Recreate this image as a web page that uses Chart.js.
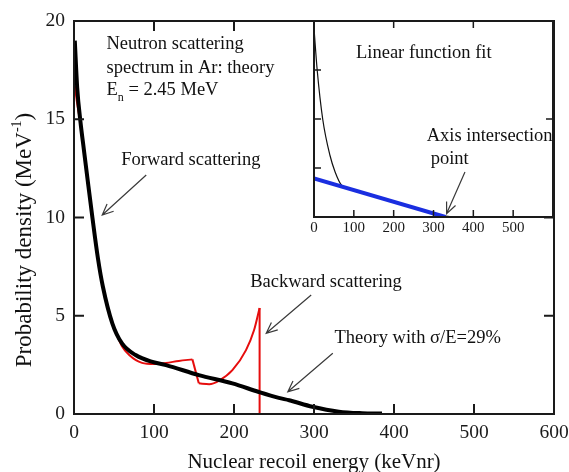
<!DOCTYPE html>
<html>
<head>
<meta charset="utf-8">
<script src="https://cdn.jsdelivr.net/npm/chart.js@4/dist/chart.umd.min.js"></script>
<style>
  html, body { margin: 0; padding: 0; background: #fff; }
  #wrap { position: relative; width: 569px; height: 472px; }
  #wrap canvas { position: absolute; left: 0; top: 0; }
</style>
</head>
<body>
<div id="wrap">
  <canvas id="main" width="569" height="472"></canvas>
  <canvas id="inset" width="569" height="472"></canvas>
</div>
<script>
// ---------------- DATA ----------------
// Main panel: smeared theory (black)
const theoryE = [1, 4, 8, 12.5, 18, 23, 30, 36, 48, 60, 77, 98, 115, 156, 198, 231, 256, 269, 298, 331, 360, 385];
const theoryP = [19.0, 16.6, 14.9, 13.4, 11.6, 10.0, 7.9, 6.5, 4.6, 3.59, 3.0, 2.65, 2.49, 1.98, 1.56, 1.12, 0.82, 0.70, 0.37, 0.12, 0.04, 0.02];
// Main panel: unsmeared spectrum (red), in pieces
const redLowE = [1, 4, 8, 12.5, 18, 23, 30, 36, 48, 54, 60, 69, 85, 100, 115, 131, 148];
const redLowP = [16.7, 15.8, 14.8, 13.4, 11.6, 10.0, 7.9, 6.5, 4.6, 4.0, 3.45, 3.0, 2.6, 2.54, 2.6, 2.7, 2.78];
const redStepE = [148, 156];
const redStepP = [2.78, 1.56];
const redHighE = [156, 169, 181, 198, 215, 225, 232];
const redHighP = [1.56, 1.52, 1.69, 2.23, 3.25, 4.26, 5.4];
const redEdgeE = [232, 232];
const redEdgeP = [5.4, 0];
// Axis ticks
const mainXTicks = [0, 100, 200, 300, 400, 500, 600];
const mainYTicks = [0, 5, 10, 15, 20];
// Inset: theory (thin black) and linear fit (blue)
const insetTheoryE = [0, 8, 22, 40, 53, 70, 100, 150, 200, 250, 300, 330, 370];
const insetTheoryV = [3.85, 3.0, 1.99, 1.26, 0.92, 0.64, 0.55, 0.43, 0.31, 0.19, 0.075, 0.02, 0];
const insetFitE = [0, 330];
const insetFitV = [0.785, 0];
const insetXLabels = [0, 100, 200, 300, 400, 500];
const insetTopTicks = [200, 400];
const insetRightTicks = [2];

// Annotations (data coordinates)
const mainNotes = [
  ['Neutron scattering', 40.6, 18.83],
  ['spectrum in Ar: theory', 40.6, 17.61],
  ['Forward scattering', 59, 12.93],
  ['Backward scattering', 220.3, 6.73],
  ['Theory with σ/E=29%', 325.6, 3.85]
];
const energyNote = [40.6, 16.49];
const mainArrows = [[90.3, 12.16, 35.3, 10.13], [296.5, 6.06, 240.3, 4.11], [323.5, 3.09, 267.3, 1.13]];
const insetNotes = [
  ['Linear function fit', 105.4, 3.35],
  ['Axis intersection', 283, 1.64],
  ['point', 293, 1.19]
];
const insetArrows = [[379, 0.92, 333, 0.07]];

// ---------------- HELPERS ----------------
const SERIF = "'Liberation Serif', 'Times New Roman', serif";
const RED = '#e60d0d';
const BLUE = '#1a2ee0';
function pts(xs, ys) { return xs.map((x, i) => ({ x: x, y: ys[i] })); }
function noPad(s) { s.paddingLeft = 0; s.paddingRight = 0; s.paddingTop = 0; s.paddingBottom = 0; }

function arrow(ctx, x1, y1, x2, y2) {
  const a = Math.atan2(y2 - y1, x2 - x1), L = 12, w = 0.42;
  ctx.beginPath();
  ctx.moveTo(x1, y1); ctx.lineTo(x2, y2);
  ctx.moveTo(x2 - L * Math.cos(a - w), y2 - L * Math.sin(a - w));
  ctx.lineTo(x2, y2);
  ctx.lineTo(x2 - L * Math.cos(a + w), y2 - L * Math.sin(a + w));
  ctx.stroke();
}

function frameAndTicks(chart, len, lw, sides) {
  const ctx = chart.ctx, a = chart.chartArea, xs = chart.scales.x, ys = chart.scales.y;
  ctx.save();
  ctx.strokeStyle = '#1a1a1a';
  ctx.lineWidth = lw;
  ctx.beginPath();
  sides.bottom.forEach(v => { if (v > xs.min && v < xs.max) { const p = xs.getPixelForValue(v); ctx.moveTo(p, a.bottom); ctx.lineTo(p, a.bottom - len); } });
  sides.top.forEach(v => { if (v > xs.min && v < xs.max) { const p = xs.getPixelForValue(v); ctx.moveTo(p, a.top); ctx.lineTo(p, a.top + len); } });
  sides.left.forEach(v => { if (v > ys.min && v < ys.max) { const p = ys.getPixelForValue(v); ctx.moveTo(a.left, p); ctx.lineTo(a.left + len, p); } });
  sides.right.forEach(v => { if (v > ys.min && v < ys.max) { const p = ys.getPixelForValue(v); ctx.moveTo(a.right, p); ctx.lineTo(a.right - len, p); } });
  ctx.stroke();
  ctx.lineWidth = 2;
  ctx.strokeRect(a.left, a.top, a.right - a.left, a.bottom - a.top);
  ctx.restore();
}

// ---------------- MAIN CHART ----------------
const mainPlugin = {
  id: 'mainDecor',
  afterDatasetsDraw(chart) {
    const ctx = chart.ctx, xs = chart.scales.x, ys = chart.scales.y, a = chart.chartArea;
    frameAndTicks(chart, 10, 2, { bottom: mainXTicks, top: mainXTicks, left: mainYTicks, right: mainYTicks });
    ctx.save();
    ctx.fillStyle = '#111';
    ctx.textBaseline = 'middle';
    ctx.textAlign = 'left';
    ctx.font = '18.5px ' + SERIF;
    mainNotes.forEach(n => ctx.fillText(n[0], xs.getPixelForValue(n[1]), ys.getPixelForValue(n[2])));
    // E_n = 2.45 MeV
    let ex = xs.getPixelForValue(energyNote[0]), ey = ys.getPixelForValue(energyNote[1]);
    ctx.fillText('E', ex, ey);
    ex += ctx.measureText('E').width;
    ctx.font = '12px ' + SERIF;
    ctx.fillText('n', ex, ey + 8);
    ex += ctx.measureText('n').width;
    ctx.font = '18.5px ' + SERIF;
    ctx.fillText(' = 2.45 MeV', ex, ey);
    // arrows
    ctx.strokeStyle = '#3a3a3a';
    ctx.lineWidth = 1.2;
    mainArrows.forEach(r => arrow(ctx, xs.getPixelForValue(r[0]), ys.getPixelForValue(r[1]), xs.getPixelForValue(r[2]), ys.getPixelForValue(r[3])));
    // axis titles
    ctx.textAlign = 'center';
    ctx.font = '21px ' + SERIF;
    ctx.fillText('Nuclear recoil energy (keVnr)', (a.left + a.right) / 2, a.bottom + 48);
    ctx.translate(a.left - 49, a.top + 219);
    ctx.rotate(-Math.PI / 2);
    ctx.font = '23px ' + SERIF;
    const p1 = 'Probability density (MeV', p3 = ')';
    const w1 = ctx.measureText(p1).width, w3 = ctx.measureText(p3).width;
    ctx.font = '14px ' + SERIF;
    const w2 = ctx.measureText('-1').width;
    let sx = -(w1 + w2 + w3) / 2;
    ctx.textAlign = 'left';
    ctx.font = '23px ' + SERIF;
    ctx.fillText(p1, sx, 0); sx += w1;
    ctx.font = '14px ' + SERIF;
    ctx.fillText('-1', sx, -8); sx += w2;
    ctx.font = '23px ' + SERIF;
    ctx.fillText(p3, sx, 0);
    ctx.restore();
  }
};

new Chart(document.getElementById('main'), {
  type: 'line',
  data: {
    datasets: [
      { data: pts(theoryE, theoryP), borderColor: '#000', borderWidth: 4, cubicInterpolationMode: 'monotone', pointRadius: 0, fill: false },
      { data: pts(redLowE, redLowP), borderColor: RED, borderWidth: 2, cubicInterpolationMode: 'monotone', pointRadius: 0, fill: false },
      { data: pts(redStepE, redStepP), borderColor: RED, borderWidth: 2, tension: 0, pointRadius: 0, fill: false },
      { data: pts(redHighE, redHighP), borderColor: RED, borderWidth: 2, cubicInterpolationMode: 'monotone', pointRadius: 0, fill: false },
      { data: pts(redEdgeE, redEdgeP), borderColor: RED, borderWidth: 2, tension: 0, pointRadius: 0, fill: false }
    ]
  },
  options: {
    responsive: false,
    animation: false,
    events: [],
    layout: { padding: { left: 0, top: 21, right: 15, bottom: 0 } },
    plugins: { legend: { display: false }, tooltip: { enabled: false } },
    scales: {
      x: {
        type: 'linear', min: 0, max: 600,
        afterBuildTicks(s) { s.ticks = mainXTicks.map(v => ({ value: v })); },
        ticks: { padding: 7, maxRotation: 0, autoSkip: false, color: '#1a1a1a', font: { family: SERIF, size: 19.5 } },
        grid: { display: false, drawTicks: false },
        border: { display: false },
        afterFit(s) { s.height = 58; noPad(s); }
      },
      y: {
        type: 'linear', min: 0, max: 20,
        afterBuildTicks(s) { s.ticks = mainYTicks.map(v => ({ value: v })); },
        ticks: { padding: 9, color: '#1a1a1a', font: { family: SERIF, size: 19.5 } },
        grid: { display: false, drawTicks: false },
        border: { display: false },
        afterFit(s) { s.width = 74; noPad(s); }
      }
    }
  },
  plugins: [mainPlugin]
});

// ---------------- INSET CHART ----------------
const insetPlugin = {
  id: 'insetDecor',
  beforeDatasetsDraw(chart) {
    const ctx = chart.ctx, a = chart.chartArea;
    ctx.save();
    ctx.fillStyle = '#fff';
    ctx.fillRect(a.left, a.top, a.right - a.left, a.bottom - a.top);
    ctx.restore();
  },
  afterDatasetsDraw(chart) {
    const ctx = chart.ctx, xs = chart.scales.x, ys = chart.scales.y;
    frameAndTicks(chart, 7, 1.5, { bottom: insetXLabels, top: insetTopTicks, left: [1, 2, 3], right: insetRightTicks });
    ctx.save();
    ctx.fillStyle = '#111';
    ctx.textBaseline = 'middle';
    ctx.textAlign = 'left';
    ctx.font = '18.5px ' + SERIF;
    insetNotes.forEach(n => ctx.fillText(n[0], xs.getPixelForValue(n[1]), ys.getPixelForValue(n[2])));
    ctx.strokeStyle = '#3a3a3a';
    ctx.lineWidth = 1.2;
    insetArrows.forEach(r => arrow(ctx, xs.getPixelForValue(r[0]), ys.getPixelForValue(r[1]), xs.getPixelForValue(r[2]), ys.getPixelForValue(r[3])));
    ctx.restore();
  }
};

new Chart(document.getElementById('inset'), {
  type: 'line',
  data: {
    datasets: [
      { data: pts(insetFitE, insetFitV), borderColor: BLUE, borderWidth: 4, tension: 0, pointRadius: 0, fill: false },
      { data: pts(insetTheoryE, insetTheoryV), borderColor: '#111', borderWidth: 1.2, cubicInterpolationMode: 'monotone', pointRadius: 0, fill: false }
    ]
  },
  options: {
    responsive: false,
    animation: false,
    events: [],
    layout: { padding: { left: 314, top: 21, right: 16, bottom: 0 } },
    plugins: { legend: { display: false }, tooltip: { enabled: false } },
    scales: {
      x: {
        type: 'linear', min: 0, max: 600,
        afterBuildTicks(s) { s.ticks = insetXLabels.map(v => ({ value: v })); },
        ticks: { padding: 2, maxRotation: 0, autoSkip: false, color: '#1a1a1a', font: { family: SERIF, size: 15 } },
        grid: { display: false, drawTicks: false },
        border: { display: false },
        afterFit(s) { s.height = 255; noPad(s); }
      },
      y: {
        type: 'linear', min: 0, max: 4, display: false
      }
    }
  },
  plugins: [insetPlugin]
});
</script>
</body>
</html>
